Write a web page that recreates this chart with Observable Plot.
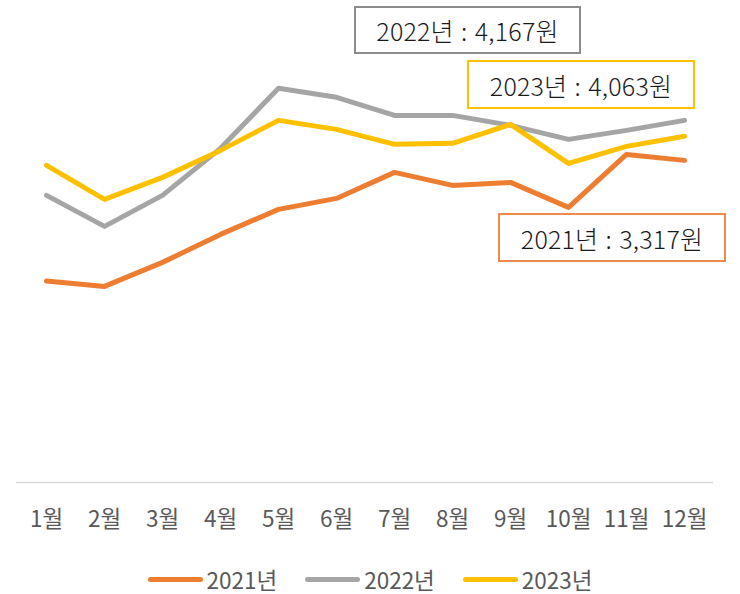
<!DOCTYPE html>
<html>
<head>
<meta charset="utf-8">
<script src="https://cdn.jsdelivr.net/npm/d3@7"></script>
<script src="https://cdn.jsdelivr.net/npm/@observablehq/plot@0.6"></script>
<style>
  body { margin: 0; background: #fff; font-family: 'Noto Sans CJK KR', 'Noto Sans', sans-serif; }
  #wrap { position: relative; width: 740px; height: 594px; overflow: hidden; }
  .note { position: absolute; box-sizing: border-box; background: #fff; border: 2px solid; display: flex; align-items: center; justify-content: center; font-size: 25px; font-weight: 300; word-spacing: 1.5px; letter-spacing: 0.2px; color: #1a1a1a; white-space: pre; }
  #legend { display: flex; justify-content: center; align-items: center; height: 58px; font-size: 22.5px; color: #595959; }
  .item { display: flex; align-items: center; margin: 0 14px; }
  .sw { width: 55px; height: 5px; border-radius: 3px; margin-right: 4px; }
</style>
</head>
<body>
<div id="wrap">
  <div id="chart"></div>
  <div id="legend"></div>
</div>
<script>
const months = ["1월","2월","3월","4월","5월","6월","7월","8월","9월","10월","11월","12월"];
const seriesNames = ["2021년", "2022년", "2023년"];
const values2021 = [2462, 2397, 2691, 3033, 3339, 3473, 3791, 3632, 3669, 3363, 4011, 3938];
const values2022 = [3510, 3131, 3510, 4085, 4819, 4709, 4488, 4488, 4366, 4195, 4305, 4427];
const values2023 = [3877, 3461, 3730, 4060, 4427, 4317, 4134, 4146, 4378, 3901, 4109, 4232];
const colors = ["#ED7D31", "#A5A5A5", "#FFC000"];
const annotationLabels = ["2021년 : 3,317원", "2022년 : 4,167원", "2023년 : 4,063원"];

const seriesValues = [values2021, values2022, values2023];
const rows = [];
seriesNames.forEach((s, i) => months.forEach((m, j) => rows.push({series: s, month: m, value: seriesValues[i][j]})));

const chart = Plot.plot({
  width: 740,
  height: 550,
  marginLeft: 16,
  marginRight: 27,
  marginTop: 73,
  marginBottom: 68,
  style: {fontFamily: "'Noto Sans CJK KR', sans-serif", fontSize: "22.5px", color: "#595959", background: "#fff"},
  x: {type: "point", domain: months, padding: 0.5, label: null},
  y: {domain: [0, 5000], axis: null},
  color: {domain: seriesNames, range: colors},
  marks: [
    Plot.ruleY([0], {stroke: "#d9d9d9", strokeWidth: 1.5}),
    Plot.axisX({tickSize: 0, tickPadding: 29, label: null, fill: "#595959"}),
    Plot.line(rows, {x: "month", y: "value", z: "series", stroke: "series", strokeWidth: 5, strokeLinecap: "round", strokeLinejoin: "round"})
  ]
});
document.getElementById("chart").appendChild(chart);

// annotation boxes
const notes = [
  {i: 1, style: "left:354px;top:6px;width:227px;height:48px;border-color:#8c8c8c;"},
  {i: 2, style: "left:467px;top:60px;width:228px;height:49px;border-color:#FFC000;"},
  {i: 0, style: "left:498px;top:213px;width:228px;height:49px;border-color:#F08A4B;"}
];
const wrap = document.getElementById("wrap");
notes.forEach(n => {
  const d = document.createElement("div");
  d.className = "note";
  d.setAttribute("style", n.style);
  d.textContent = annotationLabels[n.i];
  wrap.appendChild(d);
});

// legend
const legend = document.getElementById("legend");
seriesNames.forEach((s, i) => {
  const it = document.createElement("div");
  it.className = "item";
  const sw = document.createElement("div");
  sw.className = "sw";
  sw.style.background = colors[i];
  const t = document.createElement("span");
  t.textContent = s;
  it.appendChild(sw); it.appendChild(t);
  legend.appendChild(it);
});
</script>
</body>
</html>
